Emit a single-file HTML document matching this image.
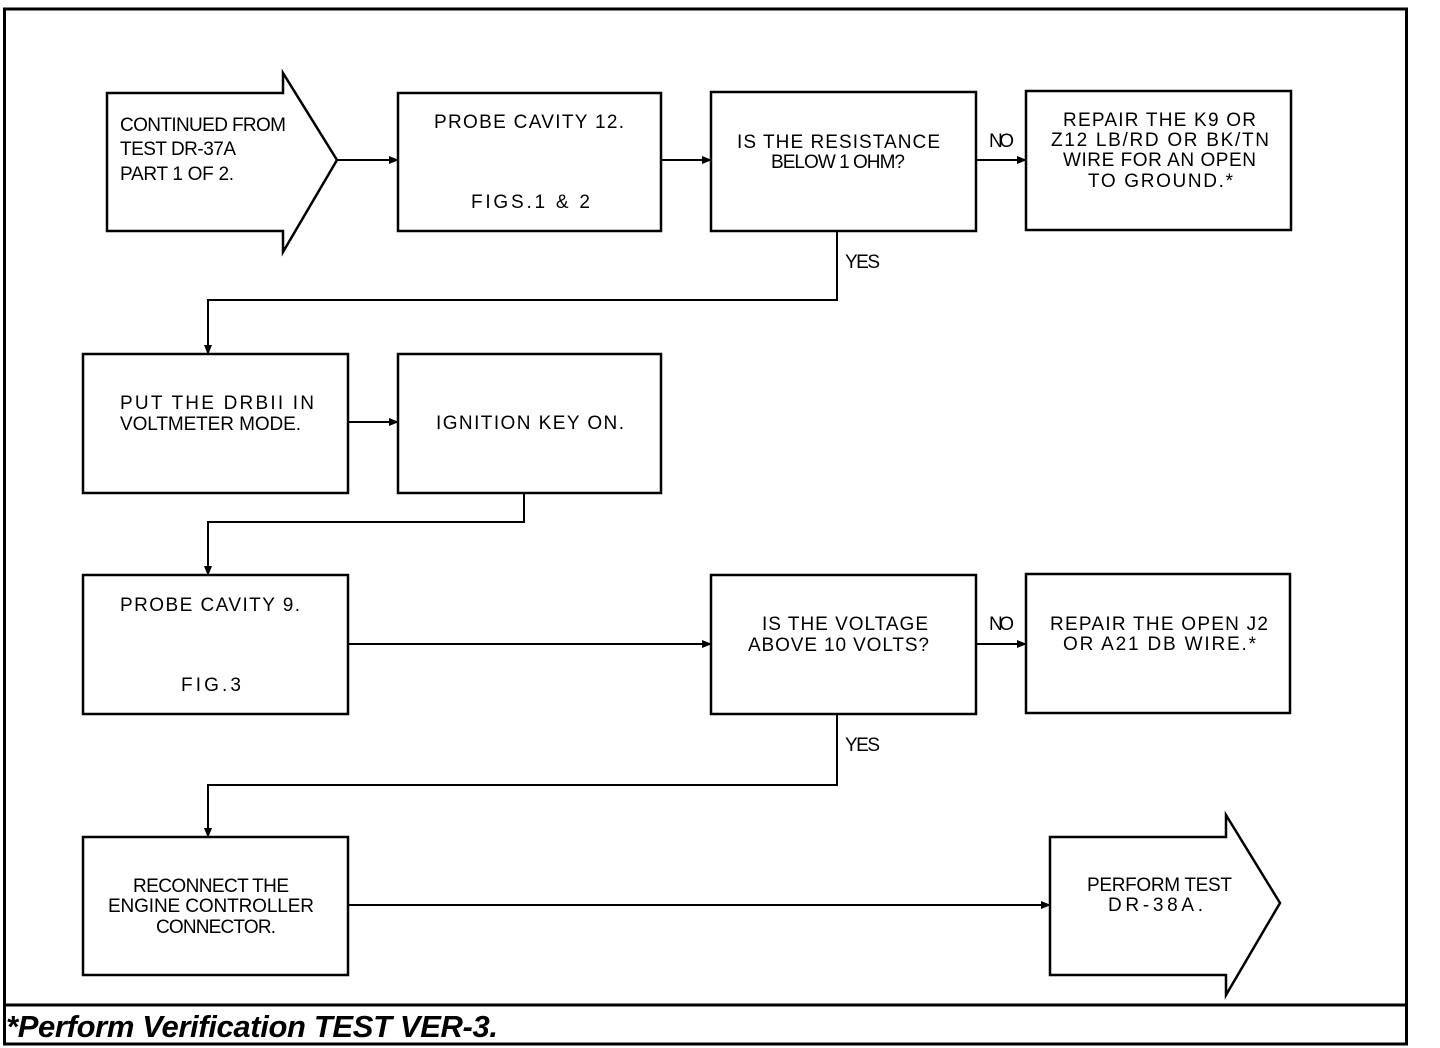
<!DOCTYPE html>
<html><head><style>
html,body{margin:0;padding:0;background:#fff;}
svg{display:block;}
text{font-family:"Liberation Sans",sans-serif;font-size:19px;fill:#000;}
.f{font-size:31px;font-weight:bold;font-style:italic;}
</style></head><body>
<svg width="1440" height="1048" viewBox="0 0 1440 1048" xmlns="http://www.w3.org/2000/svg">
<defs><marker id="a" markerWidth="10" markerHeight="8" refX="9" refY="4" orient="auto" markerUnits="userSpaceOnUse"><path d="M0,0 L10,4 L0,8 z" fill="#000"/></marker></defs>
<g fill="none" stroke="#000" stroke-width="2.5">
<rect x="4.5" y="9" width="1402" height="1035" stroke-width="3"/>
<line x1="4" y1="1005" x2="1407" y2="1005" stroke-width="3"/>
<path d="M107,93 L283,93 L283,73 L337,160 L283,252 L283,231 L107,231 Z"/>
<rect x="398" y="93" width="263" height="138"/>
<rect x="711" y="92" width="265" height="139"/>
<rect x="1026" y="91" width="265" height="139"/>
<rect x="83" y="354" width="265" height="139"/>
<rect x="398" y="354" width="263" height="139"/>
<rect x="83" y="575" width="265" height="139"/>
<rect x="711" y="575" width="265" height="139"/>
<rect x="1026" y="574" width="264" height="139"/>
<rect x="83" y="837" width="265" height="138"/>
<path d="M1050,837 L1226,837 L1226,815 L1280,903 L1226,995 L1226,975 L1050,975 Z"/>
<g stroke-width="2" marker-end="url(#a)">
<line x1="337" y1="160" x2="398" y2="160"/>
<line x1="661" y1="160" x2="711" y2="160"/>
<line x1="976" y1="160" x2="1026" y2="160"/>
<path d="M837,231 L837,300 L208,300 L208,354"/>
<line x1="348" y1="422" x2="398" y2="422"/>
<path d="M524,493 L524,522 L208,522 L208,575"/>
<line x1="348" y1="644" x2="711" y2="644"/>
<line x1="976" y1="644" x2="1026" y2="644"/>
<path d="M837,714 L837,785 L208,785 L208,837"/>
<line x1="348" y1="905" x2="1050" y2="905"/>
</g>
</g>
<text x="120" y="131" textLength="166">CONTINUED FROM</text>
<text x="120" y="155" textLength="116">TEST DR-37A</text>
<text x="120" y="180" textLength="114">PART 1 OF 2.</text>
<text x="434" y="128" textLength="190">PROBE CAVITY 12.</text>
<text x="471" y="208" textLength="119">FIGS.1 &amp; 2</text>
<text x="737" y="148" textLength="203">IS THE RESISTANCE</text>
<text x="771" y="168" textLength="134">BELOW 1 OHM?</text>
<text x="989" y="147" textLength="25">NO</text>
<text x="1063" y="126" textLength="193">REPAIR THE K9 OR</text>
<text x="1051" y="146" textLength="218">Z12 LB/RD OR BK/TN</text>
<text x="1063" y="166" textLength="193">WIRE FOR AN OPEN</text>
<text x="1088" y="187" textLength="145">TO GROUND.*</text>
<text x="845" y="268" textLength="35">YES</text>
<text x="120" y="409" textLength="194">PUT THE DRBII IN</text>
<text x="120" y="430" textLength="181">VOLTMETER MODE.</text>
<text x="436" y="429" textLength="188">IGNITION KEY ON.</text>
<text x="120" y="611" textLength="180">PROBE CAVITY 9.</text>
<text x="181" y="691" textLength="60">FIG.3</text>
<text x="762" y="630" textLength="166">IS THE VOLTAGE</text>
<text x="748" y="651" textLength="181">ABOVE 10 VOLTS?</text>
<text x="989" y="630" textLength="25">NO</text>
<text x="1050" y="630" textLength="218">REPAIR THE OPEN J2</text>
<text x="1063" y="650" textLength="193">OR A21 DB WIRE.*</text>
<text x="845" y="751" textLength="35">YES</text>
<text x="133" y="892" textLength="156">RECONNECT THE</text>
<text x="108" y="912" textLength="206">ENGINE CONTROLLER</text>
<text x="156" y="933" textLength="120">CONNECTOR.</text>
<text x="1087" y="891" textLength="145">PERFORM TEST</text>
<text x="1108" y="911" textLength="95">DR-38A.</text>
<text class="f" x="6" y="1037" textLength="492">*Perform Verification TEST VER-3.</text>
</svg>
</body></html>
